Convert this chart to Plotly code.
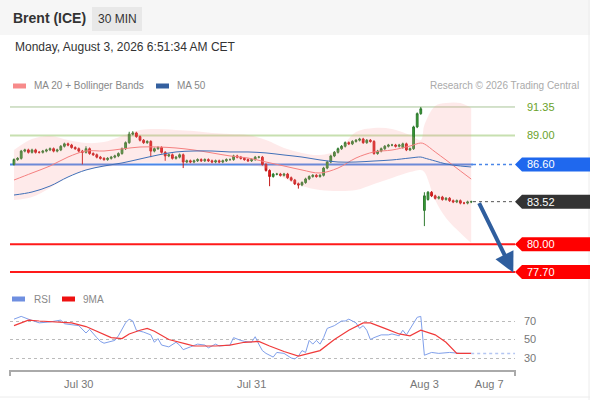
import plotly.graph_objects as go

W, H = 590, 400

# 30 min candles, Jul 29 afternoon -> Aug 3 morning (weekend removed)
opens = [
    86.6, 87.0, 87.1, 87.7, 87.8, 87.6, 87.8, 87.6, 87.6, 87.7,
    87.8, 87.9, 87.7, 87.8, 88.1, 88.3, 88.2, 88.0, 87.9, 87.7,
    87.6, 87.9, 87.5, 87.4, 87.2, 87.1, 87.0, 87.1, 87.2, 87.3,
    87.5, 87.9, 88.4, 89.1, 89.2, 88.9, 88.6, 88.4, 88.5, 87.7,
    87.9, 88.0, 87.6, 87.3, 87.4, 87.1, 87.2, 87.4, 86.8, 86.9,
    86.8, 86.9, 87.0, 86.9, 87.0, 86.9, 86.8, 86.9, 86.8, 86.9,
    87.0, 87.0, 87.3, 87.2, 87.1, 87.0, 86.9, 87.0, 87.2, 87.2,
    86.6, 86.1, 85.6, 85.8, 85.8, 85.7, 85.8, 85.5, 85.3, 85.0,
    84.9, 85.1, 85.4, 85.6, 85.7, 85.6, 85.7, 86.3, 86.8, 87.3,
    87.6, 87.9, 88.1, 88.4, 88.3, 88.5, 88.6, 88.7, 88.4, 88.6,
    88.5, 87.5, 87.7, 87.9, 88.1, 88.2, 88.2, 88.1, 88.0, 88.3,
    87.8, 87.9, 89.7, 90.8, 82.8, 83.7, 84.3, 84.0, 83.8, 83.9,
    83.7, 83.8, 83.6, 83.5, 83.6, 83.4, 83.4, 83.5,
]
highs = [
    87.1, 87.2, 87.8, 87.9, 87.9, 87.9, 87.9, 87.7, 87.8, 87.9,
    88.0, 88.0, 87.9, 88.2, 88.4, 88.4, 88.3, 88.1, 88.0, 87.8,
    88.1, 88.0, 87.6, 87.5, 87.3, 87.2, 87.2, 87.3, 87.4, 87.6,
    88.0, 88.5, 89.3, 89.35, 89.3, 89.0, 88.7, 88.6, 88.6, 88.0,
    88.1, 88.1, 87.7, 87.5, 87.5, 87.3, 87.5, 87.5, 87.0, 87.0,
    87.0, 87.1, 87.1, 87.1, 87.1, 87.0, 87.0, 87.0, 87.0, 87.1,
    87.1, 87.4, 87.4, 87.3, 87.2, 87.1, 87.1, 87.3, 87.3, 87.3,
    86.7, 86.2, 85.9, 85.9, 85.9, 85.9, 85.9, 85.6, 85.4, 85.1,
    85.2, 85.5, 85.7, 85.8, 85.8, 85.8, 86.4, 86.9, 87.4, 87.7,
    88.0, 88.2, 88.5, 88.5, 88.6, 88.7, 88.8, 88.8, 88.7, 88.7,
    88.6, 87.8, 88.0, 88.2, 88.3, 88.3, 88.3, 88.3, 88.4, 88.4,
    88.0, 89.8, 90.9, 91.35, 84.3, 84.4, 84.4, 84.1, 84.0, 84.0,
    83.9, 83.9, 83.7, 83.7, 83.7, 83.5, 83.6, 83.6,
]
lows = [
    86.5, 86.9, 87.0, 87.6, 87.5, 87.5, 87.5, 87.5, 87.5, 87.6,
    87.7, 87.6, 87.6, 87.7, 88.0, 88.1, 87.9, 87.8, 87.6, 86.6,
    87.5, 87.4, 87.3, 87.1, 87.0, 86.9, 86.9, 87.0, 87.1, 87.2,
    87.4, 87.8, 88.3, 89.0, 88.8, 88.5, 88.3, 88.3, 87.2, 87.6,
    87.8, 87.5, 86.9, 87.2, 87.0, 87.0, 87.1, 86.3, 86.7, 86.7,
    86.7, 86.8, 86.8, 86.8, 86.8, 86.7, 86.7, 86.7, 86.7, 86.8,
    86.9, 86.9, 87.1, 87.0, 86.9, 86.8, 86.8, 86.9, 87.1, 86.5,
    86.0, 84.8, 85.5, 85.7, 85.6, 85.6, 85.4, 85.2, 84.9, 84.6,
    84.8, 85.0, 85.3, 85.5, 85.5, 85.5, 85.6, 86.2, 86.7, 87.2,
    87.5, 87.8, 88.0, 88.2, 88.2, 88.4, 88.5, 88.3, 88.3, 88.4,
    87.4, 87.4, 87.6, 87.8, 88.0, 88.1, 88.0, 88.0, 87.9, 87.7,
    87.7, 87.8, 89.6, 90.7, 81.5, 83.6, 83.9, 83.7, 83.7, 83.6,
    83.6, 83.5, 83.4, 83.4, 83.3, 83.3, 83.3, 83.4,
]
closes = [
    87.0, 87.1, 87.7, 87.8, 87.6, 87.8, 87.6, 87.6, 87.7, 87.8,
    87.9, 87.7, 87.8, 88.1, 88.3, 88.2, 88.0, 87.9, 87.7, 87.6,
    87.9, 87.5, 87.4, 87.2, 87.1, 87.0, 87.1, 87.2, 87.3, 87.5,
    87.9, 88.4, 89.1, 89.2, 88.9, 88.6, 88.4, 88.5, 87.7, 87.9,
    88.0, 87.6, 87.3, 87.4, 87.1, 87.2, 87.4, 86.8, 86.9, 86.8,
    86.9, 87.0, 86.9, 87.0, 86.9, 86.8, 86.9, 86.8, 86.9, 87.0,
    87.0, 87.3, 87.2, 87.1, 87.0, 86.9, 87.0, 87.2, 87.2, 86.6,
    86.1, 85.6, 85.8, 85.8, 85.7, 85.8, 85.5, 85.3, 85.0, 84.9,
    85.1, 85.4, 85.6, 85.7, 85.6, 85.7, 86.3, 86.8, 87.3, 87.6,
    87.9, 88.1, 88.4, 88.3, 88.5, 88.6, 88.7, 88.4, 88.6, 88.5,
    87.5, 87.7, 87.9, 88.1, 88.2, 88.2, 88.1, 88.2, 88.3, 87.8,
    87.9, 89.7, 90.8, 91.2, 84.0, 84.3, 84.0, 83.8, 83.9, 83.7,
    83.8, 83.6, 83.5, 83.6, 83.4, 83.4, 83.5, 83.52,
]

# MA 20, Bollinger bands and MA 50 (sampled along the candles)
band_idx = [0, 5, 10, 15, 20, 25, 30, 35, 40, 45, 50, 55, 60, 65, 70, 75, 80,
            85, 90, 95, 100, 105, 110, 113, 114, 117, 120, 124, 127]
bb_upper = [87.79, 88.70, 88.95, 88.62, 88.37, 88.45, 88.95, 89.45, 89.53, 89.45,
            89.37, 89.20, 89.12, 89.03, 88.62, 87.96, 87.55, 87.38, 87.79, 89.28,
            89.61, 89.53, 89.03, 88.62, 89.86, 91.43, 91.68, 91.68, 91.27]
bb_lower = [83.66, 83.91, 84.65, 85.56, 86.14, 86.39, 86.55, 86.72, 86.72, 86.72,
            86.55, 86.55, 86.64, 86.55, 86.30, 85.48, 84.81, 84.48, 84.40, 84.48,
            84.98, 85.48, 85.97, 86.14, 85.97, 83.66, 82.17, 80.93, 80.10]
ma20 = [85.31, 85.89, 86.47, 87.21, 87.71, 87.71, 87.88, 88.04, 88.04, 87.96,
        87.79, 87.55, 87.30, 87.13, 86.80, 86.47, 86.14, 85.89, 86.30, 87.13,
        87.63, 87.79, 88.12, 88.37, 88.29, 87.63, 86.97, 86.06, 85.39]
ma50 = [84.07, 84.32, 84.81, 85.56, 86.14, 86.47, 86.72, 87.05, 87.38, 87.63,
        87.71, 87.71, 87.63, 87.63, 87.55, 87.38, 87.21, 86.97, 86.80, 86.80,
        86.88, 86.97, 87.13, 87.21, 87.13, 86.88, 86.64, 86.47, 86.39]

# RSI and its 9 period MA
rsi_idx = [0, 2, 4, 6, 7, 10, 13, 14, 17, 18, 20, 21, 23, 24, 25, 28, 29, 31, 32,
           33, 34, 36, 38, 39, 40, 41, 43, 45, 46, 47, 49, 51, 53, 54, 56, 57, 60,
           61, 63, 64, 66, 67, 68, 69, 70, 72, 73, 75, 77, 78, 79, 80, 81, 82, 83,
           84, 85, 86, 87, 89, 91, 92, 93, 95, 96, 97, 98, 99, 100, 102, 104, 105,
           107, 108, 109, 111, 112, 113, 114, 116, 118, 121, 124, 127]
rsi = [72, 75, 72, 69, 68, 69, 71, 67, 66, 65, 57, 61, 52, 48, 46, 49, 54, 68, 72,
       70, 60, 58, 55, 47, 51, 44, 42, 47, 44, 39, 42, 45, 44, 41, 45, 43, 44,
       52, 49, 48, 47, 53, 45, 38, 35, 31, 36, 35, 30, 29, 32, 38, 36, 49, 45,
       49, 45, 52, 62, 65, 70, 70, 72, 68, 62, 65, 60, 50, 52, 55, 55, 56,
       54, 60, 55, 68, 74, 75, 33, 36, 35, 36, 35, 35]
ma9_idx = [0, 2, 4, 7, 11, 16, 20, 24, 27, 30, 32, 35, 37, 39, 43, 48, 50, 56, 60,
           64, 68, 71, 75, 79, 82, 85, 89, 93, 97, 99, 103, 107, 110, 113, 117,
           120, 123, 125, 127]
ma9 = [65, 68, 71, 70, 69, 68, 64, 57, 52, 51, 56, 60, 62, 59, 50, 45, 43, 43, 44,
       47, 48, 43, 37, 32, 35, 38, 50, 60, 68, 68, 62, 56, 54, 60, 55, 47, 35,
       35, 35]
rsi_grid = [30, 50, 70]

# key levels and the forecast
level_values = [91.35, 89.00, 86.60, 83.52, 80.00, 77.70]
level_text = ["91.35", "89.00", "86.60", "83.52", "80.00", "77.70"]
arrow_idx = [129, 138.7]
arrow_price = [83.52, 77.65]

tick_idx = [18, 66, 114, 132]
tick_text = ["Jul 30", "Jul 31", "Aug 3", "Aug 7"]

X_RANGE = [-1.11, 139.17]
FONT = "Arial, Liberation Sans, sans-serif"


def px(x):
    return x / W


def py(y):
    return 1 - y / H


fig = go.Figure()

fig.add_trace(go.Scatter(x=band_idx, y=bb_lower, mode="lines",
                         line=dict(width=0, shape="spline"), hoverinfo="skip"))
fig.add_trace(go.Scatter(x=band_idx, y=bb_upper, mode="lines", fill="tonexty",
                         fillcolor="rgba(250,150,150,0.2)",
                         line=dict(width=0, shape="spline"), hoverinfo="skip"))
fig.add_trace(go.Scatter(x=band_idx, y=ma20, mode="lines",
                         line=dict(color="#f58080", width=1, shape="spline")))
fig.add_trace(go.Scatter(x=band_idx, y=ma50, mode="lines",
                         line=dict(color="#4070b8", width=1, shape="spline")))
fig.add_trace(go.Candlestick(
    x=list(range(len(closes))), open=opens, high=highs, low=lows, close=closes,
    increasing=dict(line=dict(color="#2f7a2f", width=1), fillcolor="#36a036"),
    decreasing=dict(line=dict(color="#c41a1a", width=1), fillcolor="#ee1c1c"),
    whiskerwidth=0,
))

fig.add_trace(go.Scatter(x=rsi_idx, y=rsi, mode="lines", xaxis="x2", yaxis="y2",
                         line=dict(color="#7f9fea", width=1)))
fig.add_trace(go.Scatter(x=ma9_idx, y=ma9, mode="lines", xaxis="x2", yaxis="y2",
                         line=dict(color="#f03a3a", width=1.2)))
fig.add_trace(go.Scatter(x=[rsi_idx[-1], X_RANGE[1]], y=[rsi[-1], rsi[-1]],
                         mode="lines", xaxis="x2", yaxis="y2",
                         line=dict(color="#b4c6f2", width=1.5, dash="dot")))

last = len(closes) - 1 + 0.5
shapes = []
annotations = []

# header band
shapes.append(dict(type="rect", xref="paper", yref="paper", x0=0, x1=1,
                   y0=py(35), y1=1, fillcolor="#f6f6f6", line=dict(width=0),
                   layer="below"))
shapes.append(dict(type="rect", xref="paper", yref="paper", x0=px(92), x1=px(142),
                   y0=py(31), y1=py(7), fillcolor="#e8e8e8", line=dict(width=0),
                   layer="below"))
shapes.append(dict(type="line", xref="paper", yref="paper", x0=px(589), x1=px(589),
                   y0=0, y1=1, line=dict(color="#ececec", width=1)))
shapes.append(dict(type="line", xref="paper", yref="paper", x0=0, x1=1,
                   y0=py(397), y1=py(397), line=dict(color="#ececec", width=1)))

annotations += [
    dict(text="<b>Brent (ICE)</b>", x=px(11), y=py(18), xanchor="left",
         font=dict(size=14, color="#333")),
    dict(text="30 MIN", x=px(117), y=py(19), xanchor="center",
         font=dict(size=12, color="#333")),
    dict(text="Monday, August 3, 2026 6:51:34 AM CET", x=px(13), y=py(47),
         xanchor="left", font=dict(size=12, color="#333")),
    dict(text="MA 20 + Bollinger Bands", x=px(32), y=py(86), xanchor="left",
         font=dict(size=10, color="#888")),
    dict(text="MA 50", x=px(175), y=py(86), xanchor="left",
         font=dict(size=10, color="#888")),
    dict(text="Research \u00a9 2026 Trading Central", x=px(581), y=py(86),
         xanchor="right", font=dict(size=10, color="#aaa")),
    dict(text="RSI", x=px(32), y=py(299), xanchor="left",
         font=dict(size=10, color="#888")),
    dict(text="9MA", x=px(81), y=py(299), xanchor="left",
         font=dict(size=10, color="#888")),
]
for x0, yc, col in [(13, 86, "#f78a8a"), (156, 86, "#34609f"),
                    (12, 299, "#6f8fe0"), (62, 299, "#ee1111")]:
    shapes.append(dict(type="rect", xref="paper", yref="paper", x0=px(x0),
                       x1=px(x0 + 13), y0=py(yc + 2.5), y1=py(yc - 2.5),
                       fillcolor=col, line=dict(width=0)))

# level lines
level_style = [
    dict(color="#a9c497", width=1),
    dict(color="#c7e0b0", width=2),
    dict(color="#4a86e8", width=2),
    None,
    dict(color="#ff1a1a", width=2),
    dict(color="#ff1a1a", width=2),
]
for v, st in zip(level_values, level_style):
    if st is not None:
        end = last if v == level_values[2] else X_RANGE[1]
        shapes.append(dict(type="line", xref="x", yref="y", x0=X_RANGE[0], x1=end,
                           y0=v, y1=v, line=st, layer="below"))
shapes.append(dict(type="line", xref="x", yref="y", x0=last, x1=X_RANGE[1],
                   y0=level_values[2], y1=level_values[2],
                   line=dict(color="#4a86e8", width=1.5, dash="dot")))
shapes.append(dict(type="line", xref="x", yref="y", x0=last, x1=X_RANGE[1],
                   y0=level_values[3], y1=level_values[3],
                   line=dict(color="#555", width=1, dash="dot")))

# level labels
box_color = [None, None, "#1f68ee", "#333333", "#ff0000", "#ff0000"]
half = 7 / 12.09
for v, t, bc in zip(level_values, level_text, box_color):
    if bc is None:
        annotations.append(dict(text=t, x=px(525), y=v, yref="y", xanchor="left",
                                font=dict(size=11, color="#6aa22a")))
    else:
        xa, xb, xc = px(515), px(522), 1.0
        path = (f"M {xa},{v} L {xb},{v + half} L {xc},{v + half} "
                f"L {xc},{v - half} L {xb},{v - half} Z")
        shapes.append(dict(type="path", xref="paper", yref="y", path=path,
                           fillcolor=bc, line=dict(width=0)))
        annotations.append(dict(text=t, x=px(525), y=v, yref="y", xanchor="left",
                                font=dict(size=11, color="white")))

# forecast arrow
annotations.append(dict(x=arrow_idx[1], y=arrow_price[1], ax=arrow_idx[0],
                        ay=arrow_price[0], xref="x", yref="y", axref="x", ayref="y",
                        text="", showarrow=True, arrowhead=2, arrowsize=1,
                        arrowwidth=4, arrowcolor="#2f5e9e", standoff=0))

# end ticks of the time axis
for xe in (10, 515):
    shapes.append(dict(type="line", xref="paper", yref="paper", x0=px(xe), x1=px(xe),
                       y0=py(370), y1=py(376), line=dict(color="#aaa", width=2)))

for a in annotations:
    a.setdefault("xref", "paper")
    a.setdefault("yref", "paper")
    a.setdefault("showarrow", False)
    a.setdefault("yanchor", "middle")

fig.update_layout(
    width=W, height=H, margin=dict(l=0, r=0, t=0, b=0),
    paper_bgcolor="white", plot_bgcolor="white",
    showlegend=False, font=dict(family=FONT),
    xaxis=dict(domain=[px(10), px(515)], range=X_RANGE, visible=False,
               rangeslider=dict(visible=False), anchor="y"),
    yaxis=dict(domain=[py(285), py(95)], range=[76.63, 92.34], visible=False,
               anchor="x"),
    xaxis2=dict(domain=[px(10), px(515)], range=X_RANGE, anchor="y2",
                showline=True, linecolor="#aaa", linewidth=2, showgrid=False,
                zeroline=False, tickvals=tick_idx, ticktext=tick_text,
                ticks="outside", ticklen=3, tickcolor="rgba(0,0,0,0)",
                tickfont=dict(size=11, color="#777")),
    yaxis2=dict(domain=[py(370), py(305)], range=[17.03, 87.3], anchor="x2",
                side="right", tickvals=rsi_grid, showgrid=True,
                gridcolor="#bbb", griddash="dot", zeroline=False, showline=False,
                ticklabelstandoff=8, tickfont=dict(size=11, color="#777")),
    shapes=shapes, annotations=annotations,
)

fig.write_html("out.html", config={"displayModeBar": False},
               post_script="document.body.style.margin='0';")
